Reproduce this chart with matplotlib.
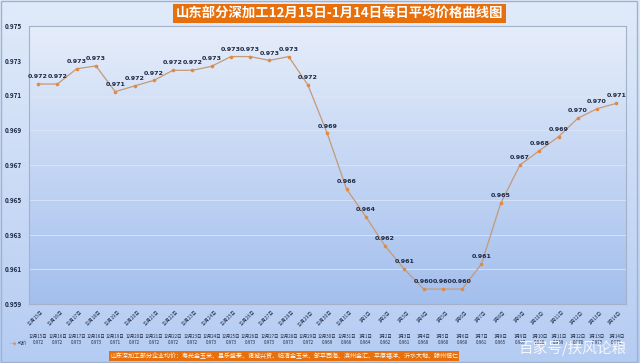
import matplotlib
matplotlib.use("Agg")
import matplotlib.pyplot as plt
import numpy as np
from matplotlib.patches import Rectangle

plt.rcParams['font.family'] = ['Noto Sans CJK SC', 'DejaVu Sans']

# ---- data ----
dates = ["12月15日", "12月16日", "12月17日", "12月18日", "12月19日", "12月20日", "12月21日",
         "12月22日", "12月23日", "12月24日", "12月25日", "12月26日", "12月27日", "12月28日",
         "12月29日", "12月30日", "12月31日", "1月1日", "1月2日", "1月3日", "1月4日", "1月5日",
         "1月6日", "1月7日", "1月8日", "1月9日", "1月10日", "1月11日", "1月12日", "1月13日", "1月14日"]
prices = [0.97166, 0.97166, 0.97254, 0.97270, 0.97122, 0.97155, 0.97187,
          0.97245, 0.97245, 0.97268, 0.97324, 0.97324, 0.97302, 0.97324,
          0.97160, 0.96882, 0.96562, 0.96403, 0.96234, 0.96100, 0.95986, 0.95986,
          0.95986, 0.96130, 0.96480, 0.96700, 0.96782, 0.96863, 0.96969, 0.97024, 0.97055]
price_labels = ["0.972", "0.972", "0.973", "0.973", "0.971", "0.972", "0.972",
                "0.972", "0.972", "0.973", "0.973", "0.973", "0.973", "0.973",
                "0.972", "0.969", "0.966", "0.964", "0.962", "0.961", "0.960", "0.960",
                "0.960", "0.961", "0.965", "0.967", "0.968", "0.969", "0.970", "0.970", "0.971"]
yticks = [0.959, 0.961, 0.963, 0.965, 0.967, 0.969, 0.971, 0.973, 0.975]
series_name = "均价"
title = "山东部分深加工12月15日-1月14日每日平均价格曲线图"
note = "山东深加工部分企业均价：寿光金玉米、昌乐盛泰、诸城兴贸、临清金玉米、邹平西海、滨州金汇、平原福洋、沂水大地、滕州恒仁"
watermark = "百家号/扶风论粮"

W, H = 640, 363
fig = plt.figure(figsize=(W / 100, H / 100), dpi=100)

# figure background gradient
bg = fig.add_axes([0, 0, 1, 1], zorder=-10)
grad = np.linspace(0, 1, 256)[:, None]
c_top = np.array([0.88, 0.92, 0.98])
c_bot = np.array([0.71, 0.80, 0.95])
img = c_top[None, None, :] * (1 - grad[..., None]) + c_bot[None, None, :] * grad[..., None]
bg.imshow(img, aspect='auto', extent=[0, 1, 0, 1])
bg.set_xlim(0, 1); bg.set_ylim(0, 1)
bg.axis('off')
bg.add_patch(Rectangle((0.002, 0.004), 0.994, 0.992, fill=False, ec='#9fb3cf', lw=1.0,
                       transform=bg.transAxes))

# plot area
left, right, top, bottom = 28.5, 626, 26, 304
ax = fig.add_axes([left / W, 1 - bottom / H, (right - left) / W, (bottom - top) / H])
n = len(dates)
x = np.arange(n)
ax.set_xlim(-0.5, n - 0.5)
ax.set_ylim(yticks[0], yticks[-1])
p_top = np.array([0.90, 0.93, 0.98])
p_bot = np.array([0.64, 0.75, 0.93])
img2 = p_top[None, None, :] * (1 - grad[..., None]) + p_bot[None, None, :] * grad[..., None]
ax.imshow(img2, aspect='auto', extent=[-0.5, n - 0.5, yticks[0], yticks[-1]], zorder=0)
for yt in yticks:
    ax.axhline(yt, color='#dbe5f5', lw=0.6, zorder=1)
for s in ax.spines.values():
    s.set_color('#a3b2c8')
    s.set_linewidth(0.8)
ax.set_yticks(yticks)
ax.set_yticklabels([f"{v:.3f}" for v in yticks], fontsize=4.6, fontweight='bold', color='#1f2a44')
ax.tick_params(axis='y', length=0, pad=5)
ax.tick_params(axis='x', length=0, labelbottom=False)
ax.set_xticks([])

ax.plot(x, prices, color='#c49a78', lw=0.9, marker='o', markersize=1.6,
        markerfacecolor='#e08a45', markeredgecolor='#e08a45', zorder=3)
for xi, yi, lab in zip(x, prices, price_labels):
    ax.annotate(lab, (xi, yi), xytext=(0, 3.5), textcoords='offset points',
                ha='center', va='bottom', fontsize=4.6, fontweight='bold',
                color='#1f2a44', family='DejaVu Sans', zorder=4)

# rotated category labels
trans = ax.get_xaxis_transform()
for xi, d in zip(x, dates):
    ax.text(xi + 0.15, -0.02, d, transform=trans, rotation=45, rotation_mode='anchor',
            ha='right', va='top', fontsize=3.4, color='#1f2a44', clip_on=False)

# data table rows
y_row1 = -(336 - bottom) / (bottom - top)
y_row2 = -(343 - bottom) / (bottom - top)
for xi, d, lab in zip(x, dates, price_labels):
    ax.text(xi, y_row1, d, transform=trans, ha='center', va='center', fontsize=3.2,
            color='#1f2a44', clip_on=False)
    ax.text(xi, y_row2, lab, transform=trans, ha='center', va='center', fontsize=3.2,
            color='#1f2a44', clip_on=False)
# legend key in table
fig.text(9 / W, 1 - 343 / H, "—◆—", fontsize=3.4, color='#c49a78', ha='left', va='center',
         family='DejaVu Sans')
fig.text(18 / W, 1 - 343 / H, series_name, fontsize=3.4, color='#1f2a44', ha='left', va='center')

# title box
fig.text(0.5 * (175 + 504) / W, 1 - 13.5 / H, title, ha='center', va='center',
         fontsize=9.6, fontweight='bold', color='white',
         bbox=dict(boxstyle='square,pad=0.18', fc='#e8700c', ec='none'))

# note box
fig.text(110 / W, 1 - 356 / H, note, ha='left', va='center', fontsize=4.3, color='white',
         bbox=dict(boxstyle='square,pad=0.25', fc='#e8700c', ec='none'))

# watermark
fig.text(572 / W, 1 - 348 / H, watermark, ha='center', va='center', fontsize=10.5,
         color='white', alpha=0.85)

fig.savefig('out.png', dpi=100)
